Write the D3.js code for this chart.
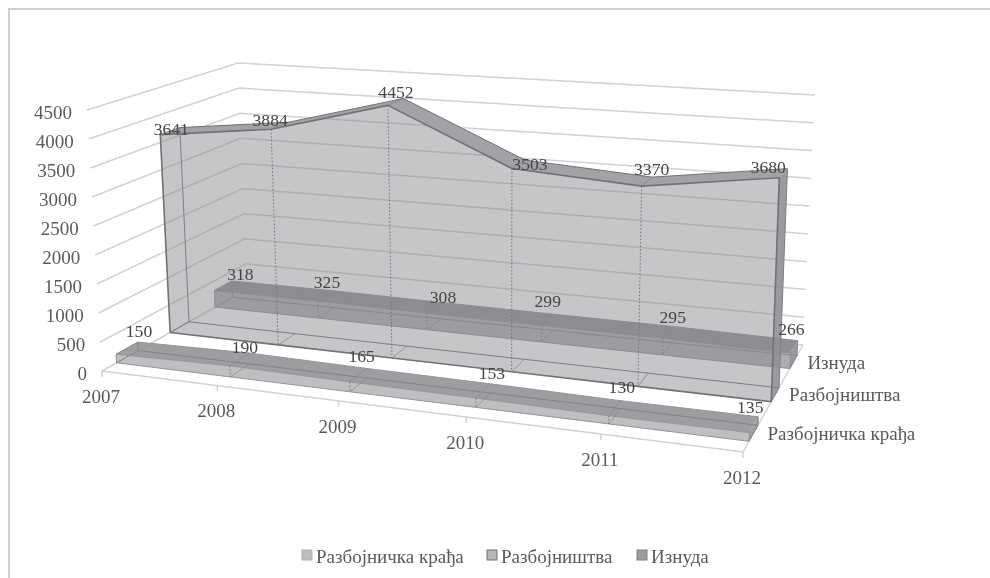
<!DOCTYPE html>
<html>
<head>
<meta charset="utf-8">
<script src="https://cdn.jsdelivr.net/npm/d3@7"></script>
<style>
	html, body { margin: 0; background: #fff; }
	svg { display: block; filter: blur(0.45px); }
	text { font-family: "Liberation Serif", serif; font-size: 19px; fill: #5a5a5a; }
	text.label { font-size: 17.6px; fill: #454545; }
</style>
</head>
<body>
<script>
var years = [2007, 2008, 2009, 2010, 2011, 2012];
var seriesNames = ["Разбојничка крађа", "Разбојништва", "Изнуда"];
var theftValues = [150, 190, 165, 153, 130, 135];
var robberyValues = [3641, 3884, 4452, 3503, 3370, 3680];
var extortionValues = [318, 325, 308, 299, 295, 266];
var valueTicks = [0, 500, 1000, 1500, 2000, 2500, 3000, 3500, 4000, 4500];

var width = 990, height = 578;

//  Corners of the 3D box on the page
var box = {
	frontLeftBottom: [102, 371], frontRightBottom: [743, 452],
	backLeftBottom: [247, 289], backRightBottom: [803, 345],
	frontLeftTop: [87, 110], frontRightTop: [751, 157],
	backLeftTop: [238, 63], backRightTop: [815, 95]
};
var perspective = 1.14;

var xScale = d3.scalePoint().domain(years).range([0, 1]);
var yScale = d3.scaleLinear().domain([0, 4500]).range([0, 1]);
var depthScale = d3.scaleOrdinal().domain(seriesNames)
	.range([[0.10, 0.25], [0.47, 0.60], [0.78, 0.90]]);

function mix(a, b, t) {
	return [a[0] + (b[0] - a[0]) * t, a[1] + (b[1] - a[1]) * t];
}

//  Year + depth (0 front, 1 back) + value to page position
function project(year, depth, value) {
	var u = xScale(year);
	u = u / (u + perspective * (1 - u));
	var bottom = mix(mix(box.frontLeftBottom, box.frontRightBottom, u),
		mix(box.backLeftBottom, box.backRightBottom, u), depth);
	var top = mix(mix(box.frontLeftTop, box.frontRightTop, u),
		mix(box.backLeftTop, box.backRightTop, u), depth);
	return mix(bottom, top, yScale(value));
}

var svg = d3.select("body").append("svg").attr("width", width)
	.attr("height", height);

var line = d3.line();

//  Only the top and left of the frame are in the picture
svg.append("path").attr("d", line([[9, height], [9, 9], [width, 9]]))
	.attr("fill", "none").attr("stroke", "#cfcfcf").attr("stroke-width", 2);

//  Walls
var firstYear = years[0], lastYear = years[years.length - 1];
var grid = svg.append("g").attr("fill", "none").attr("stroke", "#d2d2d2")
	.attr("stroke-width", 1.5);

grid.selectAll("path").data(valueTicks).enter().append("path")
	.attr("d", function(d) {
		return line([project(firstYear, 0, d), project(firstYear, 1, d), project(lastYear, 1, d)]);
	});

grid.append("path").attr("d", line([project(firstYear, 0, 0), project(lastYear, 0, 0), project(lastYear, 1, 0)]));

grid.selectAll("path.tick").data(years).enter().append("path").attr("class", "tick")
	.attr("d", function(d) {
		var p = project(d, 0, 0);
		return line([p, [p[0], p[1] + 6]]);
	});

//  Draw one series as a translucent slab
function drawSeries(name, values, style) {
	var band = depthScale(name);
	var pts = years.map(function(y, i) { return { year: y, value: values[i] }; });
	var g = svg.append("g").attr("stroke-linejoin", "round");

	function edge(depth, useValue) {
		return pts.map(function(d) { return project(d.year, depth, useValue ? d.value : 0); });
	}

	var frontTop = edge(band[0], true), backTop = edge(band[1], true);
	var frontBase = edge(band[0], false), backBase = edge(band[1], false);
	var n = pts.length - 1;

	g.append("path").attr("d", line(frontTop.concat(frontBase.slice().reverse())) + "Z")
		.attr("fill", style.front).attr("fill-opacity", style.frontOpacity).attr("stroke", "none");
	g.append("path").attr("d", line(frontTop.concat(backTop.slice().reverse())) + "Z")
		.attr("fill", style.top).attr("fill-opacity", style.topOpacity).attr("stroke", "none");
	g.append("path").attr("d", line([frontTop[n], backTop[n], backBase[n], frontBase[n]]) + "Z")
		.attr("fill", style.side).attr("fill-opacity", style.sideOpacity).attr("stroke", "none");

	var backEdges = g.append("g").attr("fill", "none").attr("stroke", style.backEdge)
		.attr("stroke-width", 1);
	backEdges.append("path").attr("d", line(backBase));
	backEdges.append("path").attr("d", line([frontBase[0], backBase[0], backTop[0], frontTop[0]]));
	backEdges.append("path").attr("d", line([backTop[n], backBase[n], frontBase[n]]));

	var edges = g.append("g").attr("fill", "none").attr("stroke", style.edge)
		.attr("stroke-width", style.edgeWidth);
	edges.append("path").attr("d", line(frontTop.concat(frontBase.slice().reverse())) + "Z");
	edges.append("path").attr("d", line(backTop)).attr("stroke-width", 1);

	//  Creases and drop lines at the inner years
	d3.range(1, n).forEach(function(i) {
		g.append("path").attr("d", line([frontBase[i], backBase[i]])).attr("fill", "none")
			.attr("stroke", style.backEdge).attr("stroke-opacity", 0.7);
		g.append("path").attr("d", line([frontTop[i], backTop[i]])).attr("fill", "none")
			.attr("stroke", style.backEdge).attr("stroke-opacity", 0.7);
		g.append("path").attr("d", line([frontTop[i], frontBase[i]])).attr("fill", "none")
			.attr("stroke", "#707175").attr("stroke-dasharray", "1.5,2");
	});
}

var extortionStyle = { top: "#8f9094", topOpacity: 1, front: "#adaeb0", frontOpacity: 1, side: "#9a9b9e", sideOpacity: 1, edge: "#8c8d90", edgeWidth: 1, backEdge: "#85868a" };
var robberyStyle = { top: "#a2a3a7", topOpacity: 1, front: "#898a8e", frontOpacity: 0.49, side: "#8f9095", sideOpacity: 0.9, edge: "#717276", edgeWidth: 1.6, backEdge: "#7d7e82" };
var theftStyle = { top: "#9d9ea1", topOpacity: 1, front: "#bebfc0", frontOpacity: 1, side: "#9d9ea1", sideOpacity: 1, edge: "#949598", edgeWidth: 1, backEdge: "#838488" };

drawSeries(seriesNames[2], extortionValues, extortionStyle);
drawSeries(seriesNames[1], robberyValues, robberyStyle);
drawSeries(seriesNames[0], theftValues, theftStyle);

//  Axis text
svg.append("g").selectAll("text").data(valueTicks).enter().append("text")
	.attr("text-anchor", "end").attr("dy", "0.35em")
	.attr("x", function(d) { return project(firstYear, 0, d)[0] - 15; })
	.attr("y", function(d) { return project(firstYear, 0, d)[1] + 2; })
	.text(function(d) { return d; });

svg.append("g").selectAll("text").data(years).enter().append("text")
	.attr("text-anchor", "middle").attr("dy", "0.35em")
	.attr("x", function(d) { return project(d, 0, 0)[0] - 1; })
	.attr("y", function(d) { return project(d, 0, 0)[1] + 25; })
	.text(function(d) { return d; });

svg.append("g").selectAll("text").data(seriesNames).enter().append("text")
	.attr("dy", "0.35em")
	.attr("x", function(d) { var b = depthScale(d); return project(lastYear, (b[0] + b[1]) / 2, 0)[0] + 14; })
	.attr("y", function(d) { var b = depthScale(d); return project(lastYear, (b[0] + b[1]) / 2, 0)[1]; })
	.text(function(d) { return d; });

//  Data labels, nudged off the front edge of the slab
var labelNudge = {};
labelNudge[seriesNames[0]] = [[23, -23], [15, -19], [12, -26], [16, -25], [13, -29], [1, -26]];
labelNudge[seriesNames[1]] = [[11, -6], [-1, -9], [8, -14], [18, -5], [10, -17], [-11, -11]];
labelNudge[seriesNames[2]] = [[26, -17], [9, -19], [16, -16], [6, -25], [10, -21], [1, -24]];

function drawLabels(name, values) {
	var front = depthScale(name)[0];
	svg.append("g").selectAll("text").data(values).enter().append("text")
		.attr("class", "label").attr("text-anchor", "middle").attr("dy", "0.35em")
		.attr("x", function(d, i) { return project(years[i], front, d)[0] + labelNudge[name][i][0]; })
		.attr("y", function(d, i) { return project(years[i], front, d)[1] + labelNudge[name][i][1]; })
		.text(function(d) { return d; });
}

drawLabels(seriesNames[2], extortionValues);
drawLabels(seriesNames[1], robberyValues);
drawLabels(seriesNames[0], theftValues);

//  Legend
var legendX = [302, 487, 637];
var legendFill = ["#bcbdbe", "#b4b5b8", "#9c9da1"];
var legendStroke = ["#b0b1b3", "#737478", "#7d7e82"];
var legend = svg.append("g").selectAll("g").data(seriesNames).enter().append("g")
	.attr("transform", function(d, i) { return "translate(" + legendX[i] + ",555)"; });

legend.append("rect").attr("y", -5).attr("width", 10).attr("height", 10)
	.attr("fill", function(d, i) { return legendFill[i]; })
	.attr("stroke", function(d, i) { return legendStroke[i]; });

legend.append("text").attr("x", 14).attr("y", 1).attr("dy", "0.35em")
	.text(function(d) { return d; });
</script>
</body>
</html>
